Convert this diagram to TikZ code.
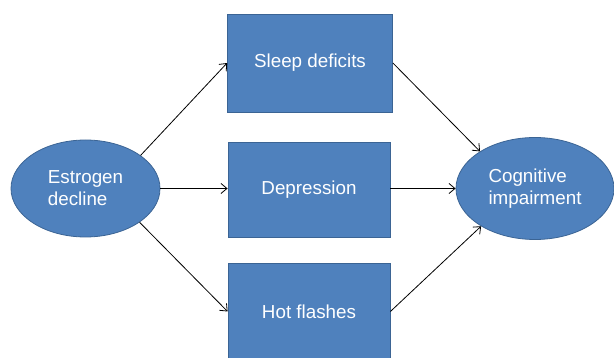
\documentclass[tikz,border=0pt]{standalone}
\usepackage{fontspec}
\setmainfont{Liberation Sans}
\usetikzlibrary{shapes.geometric,arrows.meta}
\definecolor{boxblue}{HTML}{4F81BD}
\definecolor{edgeblue}{HTML}{3B6494}
\begin{document}
\begin{tikzpicture}[x=1pt,y=-1pt,
  blob/.style={fill=boxblue,draw=edgeblue,line width=0.8pt,text=white,font=\fontsize{18.8}{22}\selectfont,align=left},
  oval/.style={blob,ellipse,inner sep=0pt},
  boxnode/.style={blob,rectangle,inner sep=0pt},
  arr/.style={-{Straight Barb[length=6pt,width=10pt]},line width=0.8pt}]
\useasboundingbox (0,0) rectangle (614,358);
\node[oval,minimum width=149pt,minimum height=97pt] (est) at (85.5,188.5) {Estrogen\\decline};
\node[oval,minimum width=158pt,minimum height=102pt] (cog) at (535,188.5) {Cognitive\\impairment};
\node[boxnode,minimum width=165pt,minimum height=98pt] (sleep) at (310,63) {Sleep deficits};
\node[boxnode,minimum width=162pt,minimum height=95pt] (dep) at (309,189.5) {Depression};
\node[boxnode,minimum width=162pt,minimum height=97pt] (hot) at (309,311.5) {Hot flashes};
\draw[arr] (est.31.6) -- (sleep.west);
\draw[arr] (est.east) -- (dep.west |- est.east);
\draw[arr] (est.-32.8) -- (hot.west);
\draw[arr] (sleep.east) -- (cog.146.9);
\draw[arr] (dep.east |- cog.west) -- (cog.west);
\draw[arr] (hot.east) -- (cog.-145.5);
\end{tikzpicture}
\end{document}
